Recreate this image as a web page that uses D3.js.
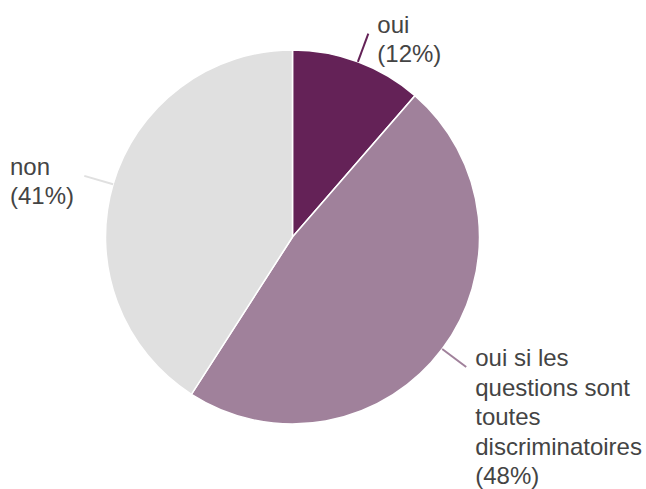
<!DOCTYPE html>
<html>
<head>
<meta charset="utf-8">
<script src="https://cdn.jsdelivr.net/npm/d3@7"></script>
<style>
  body { margin: 0; background: #fff; }
  text { font-family: "Liberation Sans", Arial, sans-serif; font-size: 24px; fill: #444; }
</style>
</head>
<body>
<svg width="646" height="489"></svg>
<script>
// answers and counts (5 / 21 / 18 of 44)
var categories = ["oui", "oui si les questions sont toutes discriminatoires", "non"];
var counts = [5, 21, 18];
var labelLines = [["oui", "(12%)"], ["oui si les", "questions sont", "toutes", "discriminatoires", "(48%)"], ["non", "(41%)"]];
var colors = ["#642257", "#a0819b", "#e0e0e0"];

var svg = d3.select("svg"),
    cx = 292.5, cy = 237, radius = 187,
    g = svg.append("g").attr("transform", "translate(" + cx + "," + cy + ")");

var data = categories.map(function(c, i) {
  return {name: c, value: counts[i], lines: labelLines[i], color: colors[i]};
});

var pie = d3.pie().sort(null).value(function(d) { return d.value; });
var arc = d3.arc().innerRadius(0).outerRadius(radius);
var arcs = pie(data);

g.selectAll(".slice")
  .data(arcs)
  .enter().append("path")
    .attr("class", "slice")
    .attr("d", arc)
    .style("fill", function(d) { return d.data.color; })
    .style("stroke", "#fff")
    .style("stroke-width", 1.5);

function pt(a, r) { return [Math.sin(a) * r, -Math.cos(a) * r]; }

var lbl = g.selectAll(".lbl")
  .data(arcs)
  .enter().append("g")
    .attr("class", "lbl");

lbl.append("line")
  .attr("x1", function(d) { return pt((d.startAngle + d.endAngle) / 2, radius)[0]; })
  .attr("y1", function(d) { return pt((d.startAngle + d.endAngle) / 2, radius)[1]; })
  .attr("x2", function(d) { return pt((d.startAngle + d.endAngle) / 2, radius + 30)[0]; })
  .attr("y2", function(d) { return pt((d.startAngle + d.endAngle) / 2, radius + 30)[1]; })
  .style("stroke", function(d) { return d.data.color; })
  .style("stroke-width", 2);

lbl.append("text")
  .attr("transform", function(d) {
    var a = (d.startAngle + d.endAngle) / 2, p = pt(a, radius + 30);
    var right = Math.sin(a) > 0;
    var x = right ? p[0] + 9 : -cx + 10;
    return "translate(" + x + "," + (p[1] - 1) + ")";
  })
  .selectAll("tspan")
  .data(function(d) { return d.data.lines; })
  .enter().append("tspan")
    .attr("x", 0)
    .attr("y", function(d, i) { return i * 29.5; })
    .text(function(d) { return d; });
</script>
</body>
</html>
